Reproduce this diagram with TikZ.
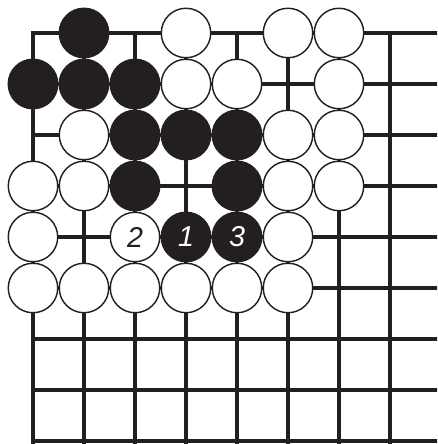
\documentclass[tikz,border=0pt]{standalone}
\usepackage{fontspec}
\setsansfont{Liberation Sans}
\definecolor{goInk}{HTML}{231F20}
\begin{document}
\begin{tikzpicture}[
    x=1cm, y=-1cm,
    grid/.style={line width=1.7pt, draw=goInk, line join=miter},
    stone/.style={circle, draw=goInk, line width=0.8pt, minimum size=0.97cm, inner sep=0pt,
        font=\sffamily\itshape\fontsize{16}{18}\selectfont},
    bstone/.style={stone, fill=goInk, text=white},
    wstone/.style={stone, fill=white, text=goInk},
]
\useasboundingbox (-0.647,-0.647) rectangle (7.922,8.059);

% ===== board lines =====
\begin{scope}
\clip (-0.647,-0.647) rectangle (7.922,8.059);
\draw[grid] (0,8.5) -- (0,0) -- (8.5,0);
\foreach \r in {1,...,8}
    \draw[grid] (0,\r) -- (8.5,\r);
\foreach \c in {1,...,7}
    \draw[grid] (\c,0) -- (\c,8.5);
\end{scope}

% ===== black stones =====
\foreach \c/\r in {1/0, 0/1, 1/1, 2/1, 2/2, 3/2, 4/2, 2/3, 4/3}
    \node[bstone] (b\c\r) at (\c,\r) {};

% ===== white stones =====
\foreach \c/\r in {3/0, 5/0, 6/0, 3/1, 4/1, 6/1, 1/2, 5/2, 6/2,
                   0/3, 1/3, 5/3, 6/3, 0/4, 5/4,
                   0/5, 1/5, 2/5, 3/5, 4/5, 5/5}
    \node[wstone] (w\c\r) at (\c,\r) {};

% ===== numbered moves =====
\node[bstone] (mv1) at (3,4) {1};
\node[wstone] (mv2) at (2,4) {2};
\node[bstone] (mv3) at (4,4) {3};

\end{tikzpicture}
\end{document}
